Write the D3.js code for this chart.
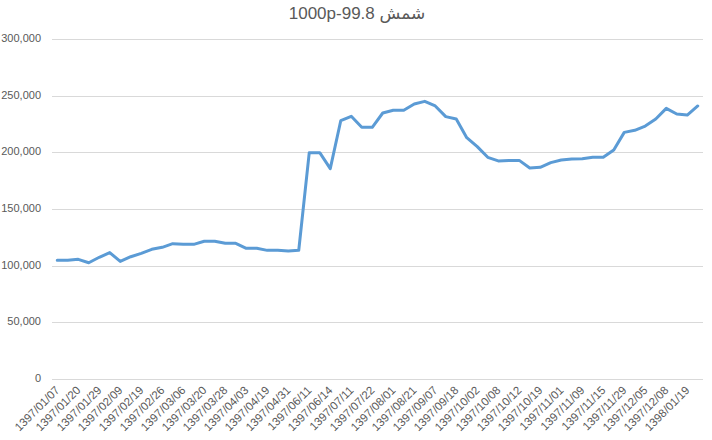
<!DOCTYPE html>
<html>
<head>
<meta charset="utf-8">
<script src="https://cdn.jsdelivr.net/npm/d3@7"></script>
<style>
  html, body { margin: 0; padding: 0; background: #fff; }
  svg { display: block; }
</style>
</head>
<body>
<svg id="chart" width="712" height="440"></svg>
<script>
const title = "1000p-99.8 شمش";

const categories = [
  "1397/01/07","1397/01/14","1397/01/20","1397/01/25","1397/01/29","1397/02/04",
  "1397/02/09","1397/02/15","1397/02/19","1397/02/23","1397/02/26","1397/03/01",
  "1397/03/06","1397/03/13","1397/03/20","1397/03/24","1397/03/28","1397/03/31",
  "1397/04/03","1397/04/11","1397/04/19","1397/04/25","1397/04/31","1397/05/15",
  "1397/06/11","1397/06/12","1397/06/14","1397/07/01","1397/07/11","1397/07/16",
  "1397/07/22","1397/07/28","1397/08/01","1397/08/12","1397/08/21","1397/08/28",
  "1397/09/07","1397/09/12","1397/09/18","1397/09/25","1397/10/02","1397/10/05",
  "1397/10/08","1397/10/10","1397/10/12","1397/10/16","1397/10/19","1397/10/26",
  "1397/11/01","1397/11/05","1397/11/09","1397/11/12","1397/11/15","1397/11/22",
  "1397/11/29","1397/12/01","1397/12/05","1397/12/06","1397/12/08","1397/12/20",
  "1398/01/19","1398/01/26"
];

const values = [
  104700, 104700, 105600, 102600, 107400, 111500,
  103800, 107900, 110900, 114400, 116200, 119400,
  118800, 118800, 121500, 121500, 119700, 119700,
  115300, 115300, 113500, 113500, 112900, 113600,
  199700, 199700, 185600, 227900, 231800, 222100,
  222100, 234700, 237100, 237100, 242600, 245000,
  240900, 231500, 229400, 212900, 205000, 195600,
  192400, 192900, 192900, 186200, 186800, 190900,
  193200, 194100, 194400, 195600, 195600, 202100,
  217600, 219400, 223200, 229400, 238800, 233800,
  232900, 240900
];

const yTicks = [0, 50000, 100000, 150000, 200000, 250000, 300000];

const svg = d3.select("#chart");
const margin = { left: 52, right: 9, top: 39, bottom: 61 };
const W = 712, H = 440;

const x = d3.scaleBand()
  .domain(categories)
  .range([margin.left, W - margin.right])
  .paddingInner(0).paddingOuter(0);

const y = d3.scaleLinear()
  .domain([0, 300000])
  .range([H - margin.bottom, margin.top]);

const fmt = d3.format(",");

// gridlines
svg.append("g")
  .selectAll("line")
  .data(yTicks)
  .join("line")
  .attr("x1", margin.left)
  .attr("x2", W - margin.right)
  .attr("y1", d => Math.round(y(d)) + 0.5)
  .attr("y2", d => Math.round(y(d)) + 0.5)
  .attr("stroke", "#d9d9d9")
  .attr("stroke-width", 1);

// y axis labels
const yAxis = d3.axisLeft(y).tickValues(yTicks).tickFormat(fmt).tickSize(0).tickPadding(0);
const yG = svg.append("g")
  .attr("transform", `translate(41,-1)`)
  .call(yAxis);
yG.select(".domain").remove();
yG.selectAll("text")
  .attr("fill", "#595959")
  .style("font-family", "'Liberation Sans', Arial, sans-serif")
  .style("font-size", "11px");

// x axis labels (every other category)
const xAxis = d3.axisBottom(x)
  .tickValues(categories.filter((d, i) => i % 2 === 0))
  .tickSize(0).tickPadding(0);
const xG = svg.append("g")
  .attr("transform", `translate(0,${H - margin.bottom})`)
  .call(xAxis);
xG.select(".domain").remove();
xG.selectAll("text")
  .attr("fill", "#595959")
  .style("font-family", "'Liberation Sans', Arial, sans-serif")
  .style("font-size", "11.5px")
  .attr("text-anchor", "end")
  .attr("dy", "0")
  .attr("transform", "translate(3,12) rotate(-45)");

// line
const line = d3.line()
  .x((d, i) => x(categories[i]) + x.bandwidth() / 2)
  .y(d => y(d));

svg.append("path")
  .datum(values)
  .attr("d", line)
  .attr("fill", "none")
  .attr("stroke", "#5b9bd5")
  .attr("stroke-width", 3)
  .attr("stroke-linejoin", "round")
  .attr("stroke-linecap", "round");

// title
svg.append("text")
  .attr("x", 357)
  .attr("y", 19)
  .attr("text-anchor", "middle")
  .attr("fill", "#595959")
  .style("font-family", "'Liberation Sans', 'DejaVu Sans', Arial, sans-serif")
  .style("font-size", "17px")
  .text(title);
</script>
</body>
</html>
